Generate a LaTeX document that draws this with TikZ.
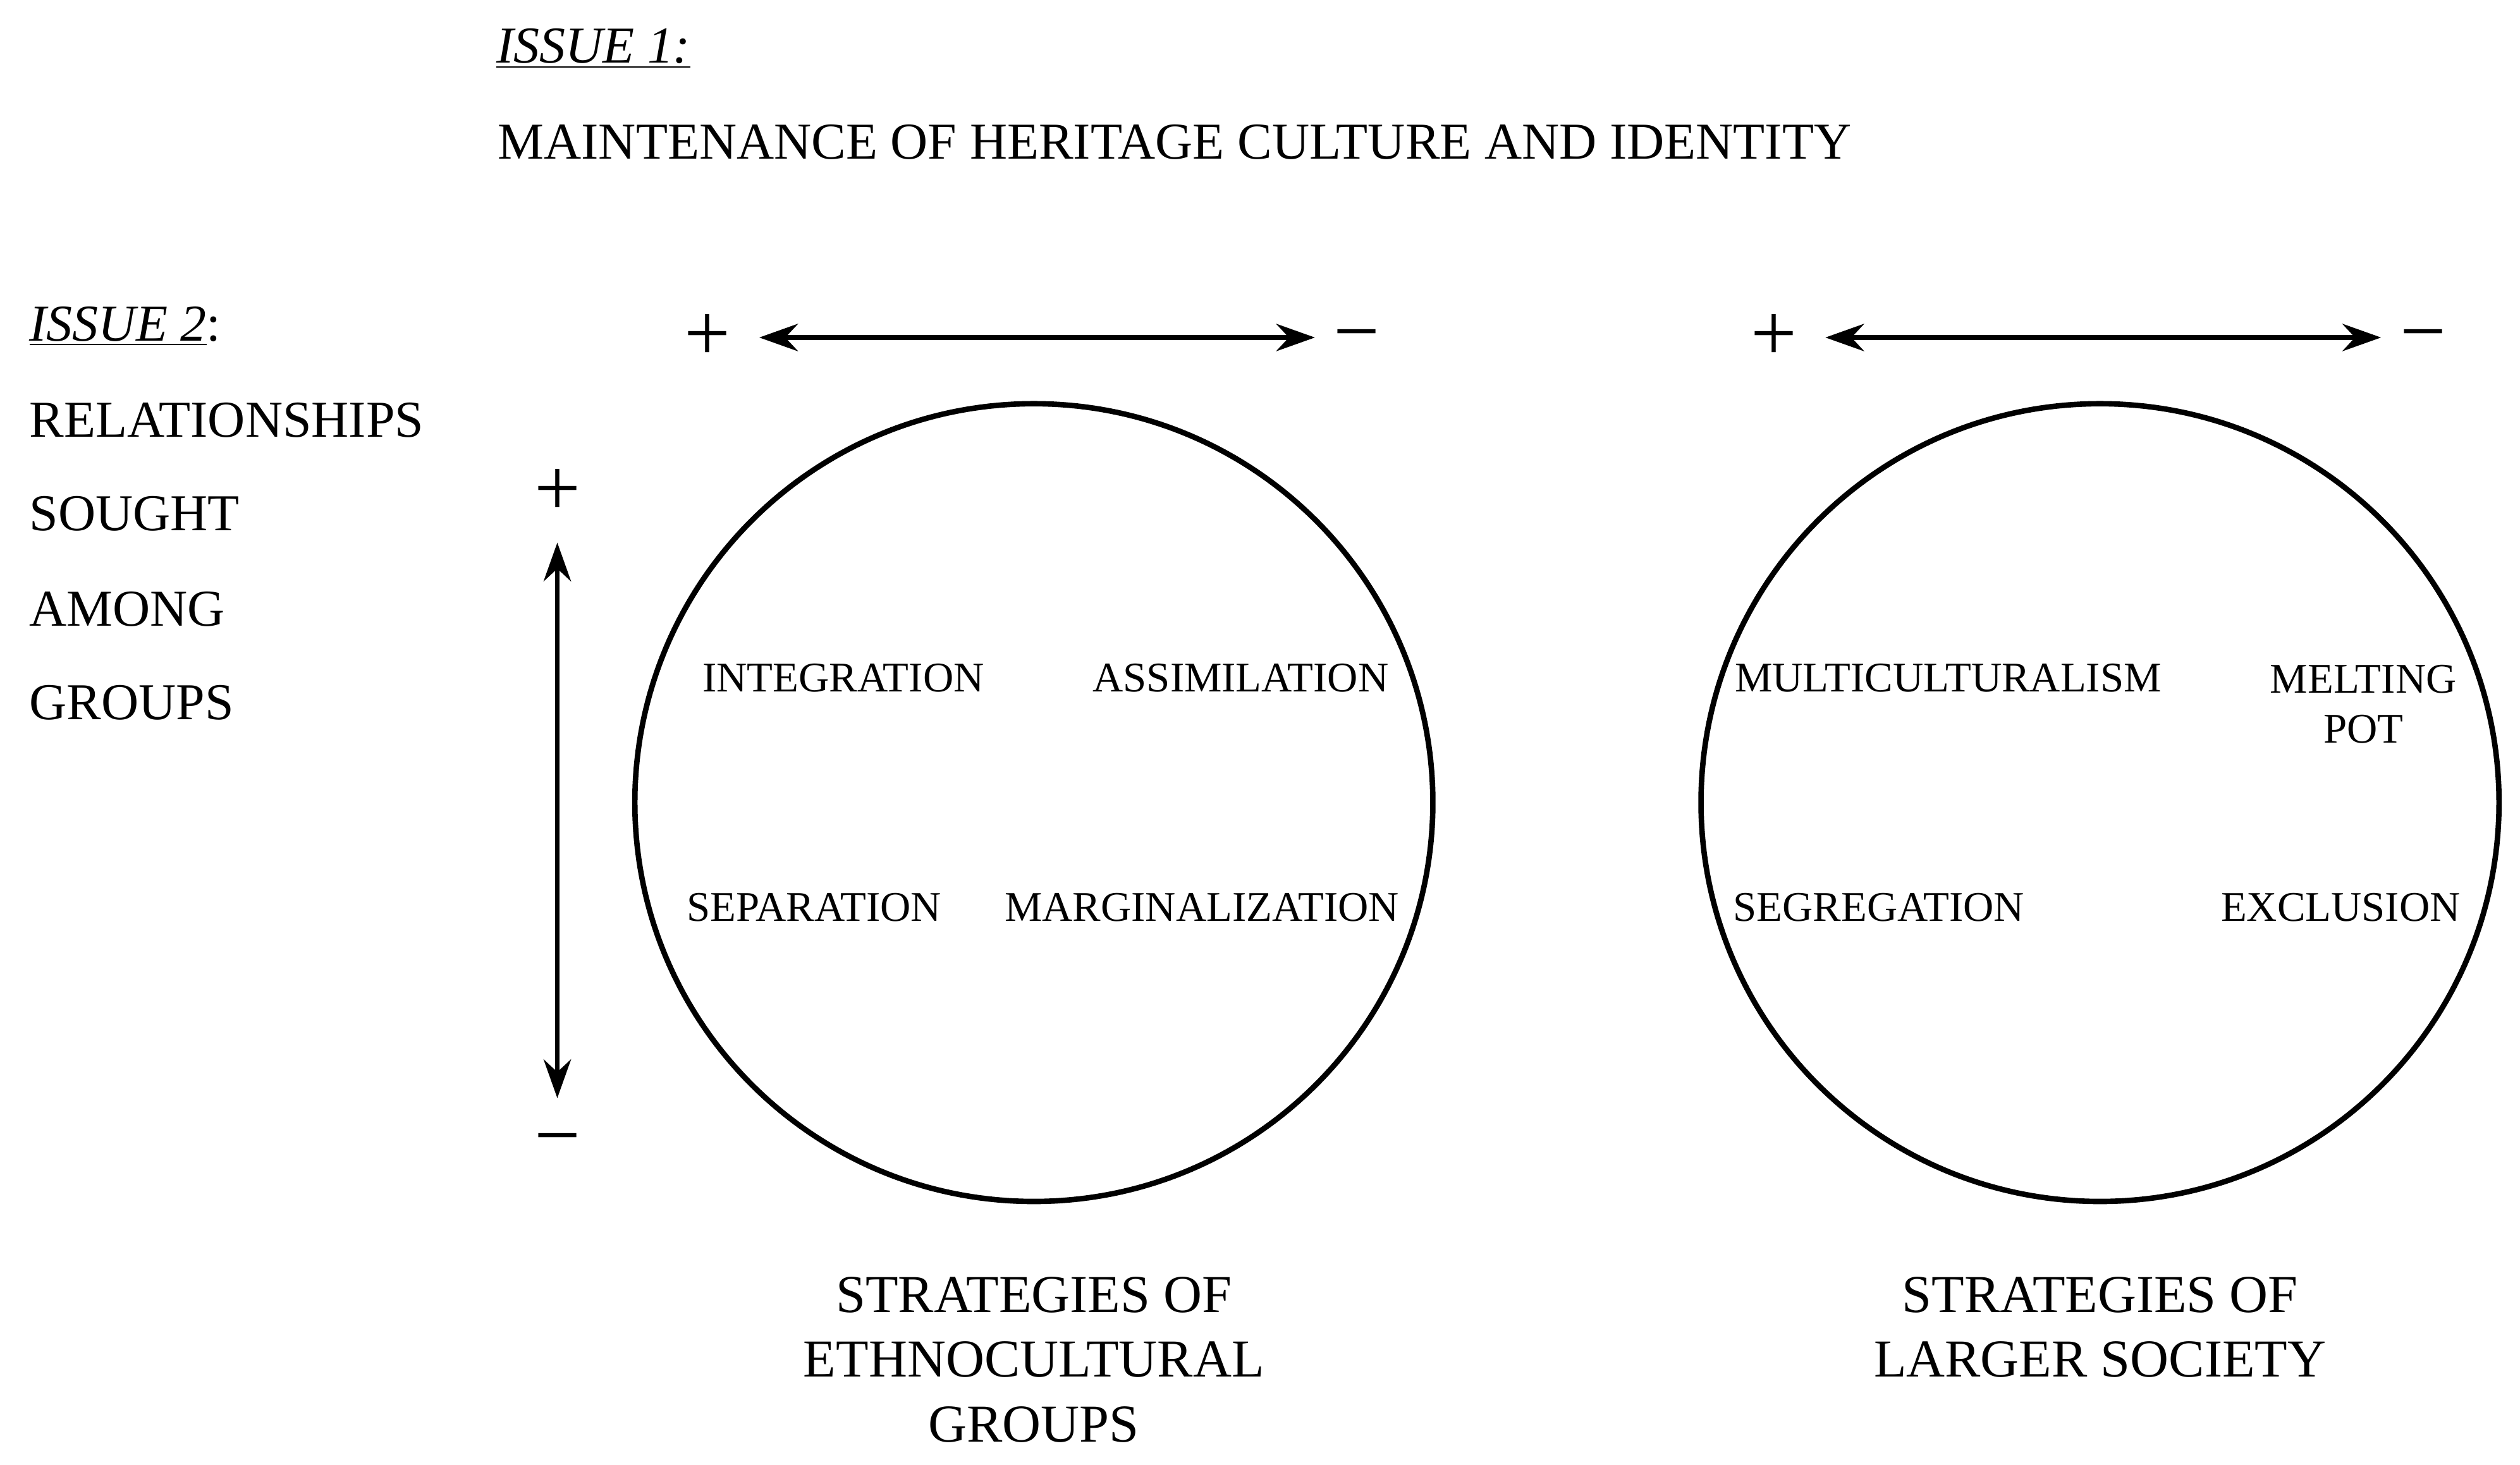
\documentclass[tikz,border=0pt]{standalone}
\usepackage{fontspec}
\setmainfont{Liberation Serif}
\usetikzlibrary{arrows.meta}
\begin{document}
\begin{tikzpicture}[x=0.025cm,y=-0.025cm,
  big/.style={font=\fontsize{22.8}{27}\selectfont, inner sep=0pt},
  small/.style={font=\fontsize{18.6}{22}\selectfont, inner sep=0pt, align=center},
  sign/.style={font=\fontsize{36}{38}\selectfont, inner sep=0pt},
  circ/.style={draw, line width=2.4pt},
  dbl/.style={line width=2.2pt, {Stealth[length=17pt,width=12pt]}-{Stealth[length=17pt,width=12pt]}}]
\useasboundingbox (0,0) rectangle (1560,907);
\node[big, anchor=west] (i1) at (307,30) {\underline{\textit{ISSUE 1:}}};
\node[big, anchor=west] (mt) at (308,88) {MAINTENANCE OF HERITAGE CULTURE AND IDENTITY};
\node[big, anchor=west] (i2) at (18,202) {\underline{\textit{ISSUE 2}}:};
\node[big, anchor=west] (r1) at (18,260) {RELATIONSHIPS};
\node[big, anchor=west] (r2) at (18,318) {SOUGHT};
\node[big, anchor=west] (r3) at (18,377) {AMONG};
\node[big, anchor=west] (r4) at (18,435) {GROUPS};
% circles
\node[circ, circle, minimum size=494*0.025cm] (c1) at (640,497) {};
\node[circ, circle, minimum size=494*0.025cm] (c2) at (1300,497) {};
% top arrows
\node[sign] (p1) at (438,209) {+};
\node[sign] (m1) at (840,213) {\textminus};
\coordinate (a1) at (470,209); \coordinate (b1) at (814,209);
\draw[dbl] (a1) -- (b1);
\node[sign] (p2) at (1098,209) {+};
\node[sign] (m2) at (1500,213) {\textminus};
\coordinate (a2) at (1130,209); \coordinate (b2) at (1474,209);
\draw[dbl] (a2) -- (b2);
% vertical arrow
\node[sign] (pv) at (345,305) {+};
\node[sign] (mv) at (345,711) {\textminus};
\coordinate (av) at (345,336); \coordinate (bv) at (345,680);
\draw[dbl] (av) -- (bv);
% inner labels
\node[small] (int) at (522,420) {INTEGRATION};
\node[small] (ass) at (768,420) {ASSIMILATION};
\node[small] (sep) at (504,562) {SEPARATION};
\node[small] (mar) at (744,562) {MARGINALIZATION};
\node[small] (mul) at (1206,420) {MULTICULTURALISM};
\node[small, font=\fontsize{18.6}{22}\selectfont] (mel) at (1463,436) {MELTING\\POT};
\node[small] (seg) at (1163,562) {SEGREGATION};
\node[small] (exc) at (1449,562) {EXCLUSION};
% bottom captions
\node[big, align=center, font=\fontsize{23.5}{28.4}\selectfont] (s1) at (640,842) {STRATEGIES OF\\ETHNOCULTURAL\\GROUPS};
\node[big, align=center, font=\fontsize{23.5}{28.4}\selectfont] (s2) at (1300,822) {STRATEGIES OF\\LARGER SOCIETY};
\end{tikzpicture}
\end{document}
